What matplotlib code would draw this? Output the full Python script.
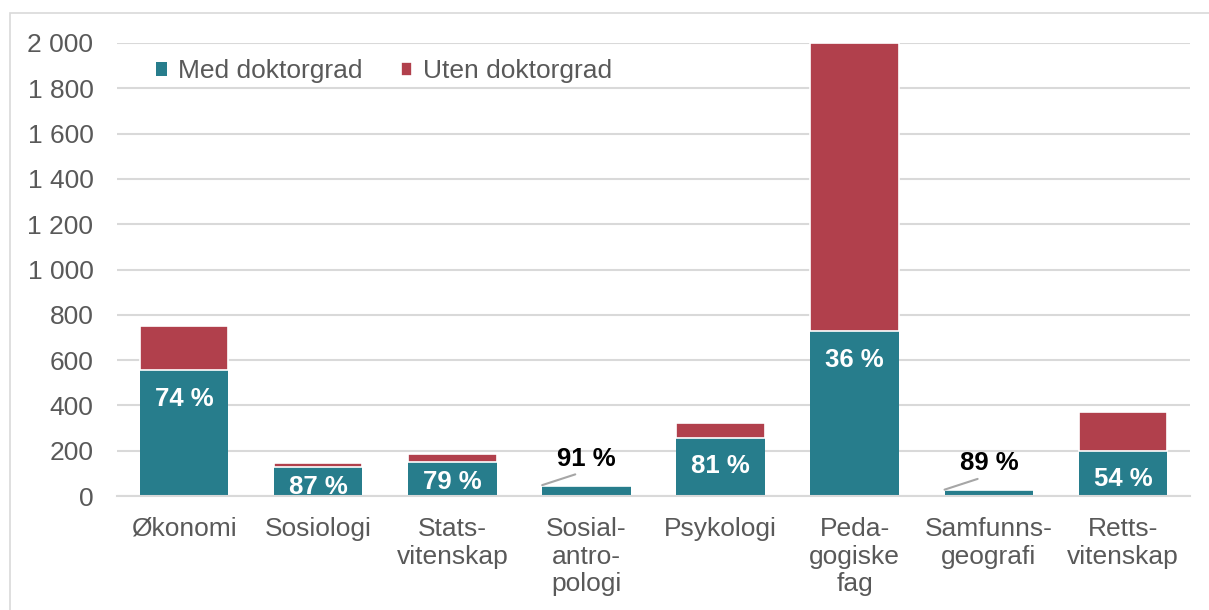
import matplotlib
matplotlib.use('Agg')
import matplotlib.pyplot as plt
import matplotlib.patches as patches
import numpy as np

# data
fag = ['Økonomi', 'Sosiologi', 'Stats-\nvitenskap', 'Sosial-\nantro-\npologi',
       'Psykologi', 'Peda-\ngogiske\nfag', 'Samfunns-\ngeografi', 'Retts-\nvitenskap']
med_dr = [555, 127, 148, 44, 257, 728, 25, 200]
uten_dr = [195, 19, 39, 4, 64, 1272, 3, 170]
andel = ['74 %', '87 %', '79 %', '91 %', '81 %', '36 %', '89 %', '54 %']
yticks = [0, 200, 400, 600, 800, 1000, 1200, 1400, 1600, 1800, 2000]

teal = '#277D8C'
red = '#B1404C'
grey_txt = '#595959'
grid_c = '#D9D9D9'

plt.rcParams['font.family'] = ['Liberation Sans', 'DejaVu Sans']

fig = plt.figure(figsize=(12.09, 6.10), dpi=100)
ax = fig.add_axes([117/1209, 1-496/610, (1190-117)/1209, (496-43)/610])

# outer frame
fig.patches.append(patches.Rectangle((10/1209, -0.05), 1.1, 1-13/610+0.05,
                                     transform=fig.transFigure, fill=False,
                                     edgecolor=grid_c, linewidth=1.2))

x = np.arange(len(fag))
bw = 0.66
b1 = ax.bar(x, med_dr, width=bw, color=teal, label='Med doktorgrad', zorder=3)
b2 = ax.bar(x, uten_dr, width=bw, bottom=med_dr, color=red, label='Uten doktorgrad',
            edgecolor='white', linewidth=1.2, zorder=3)

ax.set_xlim(-0.5, len(fag) - 0.5)
ax.set_ylim(0, 2000)
ax.set_yticks(yticks)
ax.set_yticklabels(['{:,}'.format(v).replace(',', ' ') for v in yticks])
ax.set_xticks(x)
ax.set_xticklabels(fag, linespacing=1.2)
ax.tick_params(axis='y', length=0, pad=17, labelsize=19, labelcolor=grey_txt)
ax.tick_params(axis='x', length=0, pad=15, labelsize=19, labelcolor=grey_txt)
ax.grid(axis='y', color=grid_c, linewidth=1.5, zorder=0)
for s in ['top', 'right', 'left']:
    ax.spines[s].set_visible(False)
ax.spines['bottom'].set_color(grid_c)
ax.spines['bottom'].set_linewidth(1.5)
ax.spines['bottom'].set_zorder(4)

# percent labels
for i in range(len(fag)):
    total = med_dr[i] + uten_dr[i]
    if total < 100:
        # small bars: label above, leader line to the bar's top left corner
        ax.annotate(andel[i], xy=(x[i] - bw / 2, total),
                    xytext=(x[i], 19), textcoords=('data', 'offset points'),
                    ha='center', va='center', fontsize=18.5, fontweight='bold',
                    color='black', zorder=5,
                    arrowprops=dict(arrowstyle='-', color='#A6A6A6', lw=1.5,
                                    shrinkA=2, shrinkB=0, relpos=(0.5, 0)))
    else:
        off = -14 if i in (1, 2) else -20.5
        ax.annotate(andel[i], xy=(x[i], med_dr[i]), xytext=(0, off),
                    textcoords='offset points', ha='center', va='center',
                    fontsize=18.5, fontweight='bold', color='white', zorder=5,
                    annotation_clip=False)

leg = ax.legend(loc='upper left', bbox_to_anchor=(0.036, 0.964), ncol=2, frameon=False,
                fontsize=19, handlelength=0.42, handleheight=0.42, handletextpad=0.42,
                columnspacing=1.45, borderpad=0, borderaxespad=0)
for t in leg.get_texts():
    t.set_color(grey_txt)

fig.savefig('out.png', dpi=100)
